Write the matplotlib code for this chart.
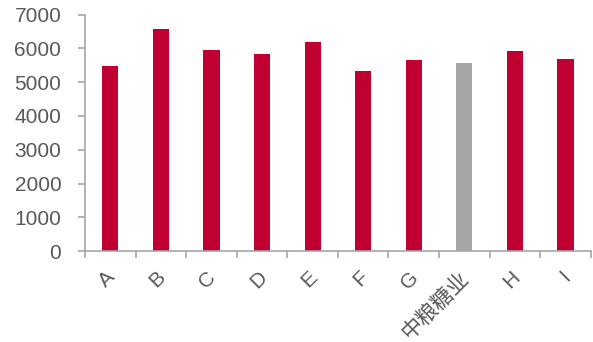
import matplotlib.pyplot as plt
import matplotlib.transforms as mtransforms
import numpy as np

plt.rcParams['font.family'] = ['Liberation Sans', 'Noto Sans CJK SC', 'DejaVu Sans']

# 各公司数据
companies = ['A', 'B', 'C', 'D', 'E', 'F', 'G', '中粮糖业', 'H', 'I']
values = [5480, 6580, 5965, 5845, 6190, 5330, 5645, 5560, 5935, 5675]
highlight = '中粮糖业'

red = '#C00030'
grey = '#A6A6A6'
axis_grey = '#A6A6A6'
text_grey = '#595959'

colors = [grey if c == highlight else red for c in companies]

fig = plt.figure(figsize=(5.93, 3.42), dpi=100)
ax = fig.add_axes([0.1433, 0.266, 0.853, 0.691])

x = np.arange(len(companies))
ax.bar(x, values, width=0.32, color=colors, zorder=2)

ax.set_xlim(-0.5, len(companies) - 0.5)
ax.set_ylim(0, 7000)
ax.set_yticks(np.arange(0, 7001, 1000))

for side in ['top', 'right']:
    ax.spines[side].set_visible(False)
for side in ['left', 'bottom']:
    ax.spines[side].set_color(axis_grey)
    ax.spines[side].set_linewidth(1.2)

# 类别分隔刻度
ax.set_xticks(x)
ax.set_xticks(np.arange(-0.5, len(companies), 1), minor=True)
ax.tick_params(axis='x', which='major', length=0, pad=12)
ax.tick_params(axis='x', which='minor', length=5, width=1.2, color=axis_grey)
ax.set_xticklabels(companies, rotation=45, ha='right', rotation_mode='anchor',
                   fontsize=15, color=text_grey)

# 标签整体略向左移
shift = mtransforms.ScaledTranslation(-5 / 100, 0, fig.dpi_scale_trans)
for lbl in ax.get_xticklabels():
    lbl.set_transform(lbl.get_transform() + shift)
    if lbl.get_text() == highlight:
        lbl.set_fontsize(15.5)
        lbl.set_fontweight('light')

ax.tick_params(axis='y', length=5, width=1.2, color=axis_grey, pad=12,
               labelsize=15, labelcolor=text_grey)

fig.savefig('out.png', dpi=100)
